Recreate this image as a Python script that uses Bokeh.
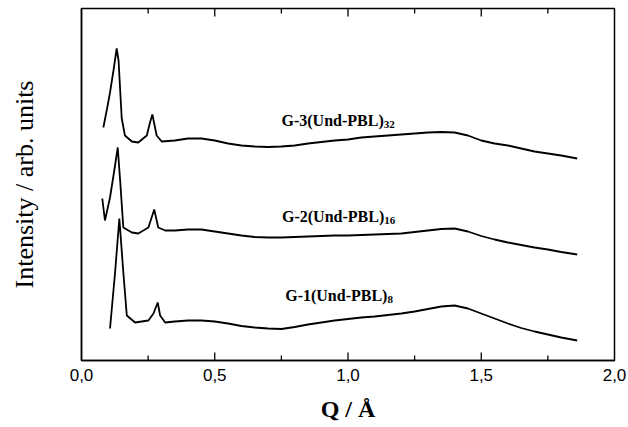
from bokeh.plotting import figure
from bokeh.models import FixedTicker, CustomJSTickFormatter, ColumnDataSource
from bokeh.core.properties import value
from bokeh.embed import file_html
from bokeh.resources import INLINE

# ---- data (intensity in arbitrary units) ----
q_g3 = [0.082, 0.096, 0.107, 0.120, 0.132, 0.139, 0.151, 0.163, 0.189, 0.213, 0.245, 0.257,
        0.266, 0.282, 0.301, 0.35, 0.40, 0.45, 0.50, 0.55, 0.60, 0.65, 0.70, 0.75, 0.80, 0.85,
        0.90, 0.95, 1.00, 1.05, 1.10, 1.15, 1.20, 1.25, 1.30, 1.35, 1.40, 1.45, 1.50, 1.55,
        1.60, 1.65, 1.70, 1.75, 1.80, 1.86]
i_g3 = [233, 252, 268, 290, 312, 300, 242, 225, 219, 218, 225, 238,
        246, 225, 219, 220, 222, 222, 220, 217, 215, 214, 213.5, 214, 215, 217,
        218.5, 220, 221, 223, 224, 225, 226, 227, 228, 228.5, 228, 225, 220, 217,
        215, 212, 209, 207, 205, 202]

q_g2 = [0.078, 0.088, 0.107, 0.123, 0.136, 0.145, 0.157, 0.189, 0.213, 0.251, 0.273, 0.288,
        0.314, 0.35, 0.40, 0.45, 0.50, 0.55, 0.60, 0.65, 0.70, 0.75, 0.80, 0.85, 0.90, 0.95,
        1.00, 1.05, 1.10, 1.15, 1.20, 1.25, 1.30, 1.35, 1.40, 1.45, 1.50, 1.55, 1.60, 1.65,
        1.70, 1.75, 1.80, 1.86]
i_g2 = [162, 140, 163, 190, 213, 180, 133, 128, 127, 133, 151, 133,
        130, 130, 131, 131, 129, 127, 125, 123.5, 123, 123, 123.5, 124, 124.5, 125,
        125, 125.5, 126, 126.5, 127, 128.5, 130, 131.5, 132, 129, 124.5, 121, 118, 115.5,
        113, 111, 108.5, 106]

q_g1 = [0.107, 0.126, 0.142, 0.157, 0.170, 0.201, 0.251, 0.270, 0.286, 0.295, 0.314, 0.35,
        0.40, 0.45, 0.50, 0.55, 0.60, 0.65, 0.70, 0.75, 0.80, 0.85, 0.90, 0.95, 1.00, 1.05,
        1.10, 1.15, 1.20, 1.25, 1.30, 1.35, 1.40, 1.45, 1.50, 1.55, 1.60, 1.65, 1.70, 1.75,
        1.80, 1.86]
i_g1 = [32, 88, 142, 88, 45, 38, 40, 47, 58, 45, 38, 39,
        40, 40, 39, 37, 34.5, 33, 32, 31.5, 33.5, 36, 38, 40, 41.5, 43,
        44, 45.5, 47, 49, 51.5, 54, 55, 52, 47, 42, 37, 32.5, 29, 26,
        23, 20]

label_main = ["G-3(Und-PBL)", "G-2(Und-PBL)", "G-1(Und-PBL)"]
label_sub = ["32", "16", "8"]

x_ticks = [0.0, 0.5, 1.0, 1.5, 2.0]
x_minor = [0.25, 0.75, 1.25, 1.75]

# ---- layout constants ----
Y0, Y1 = 0, 352          # y range equals frame height in px, so 1 unit = 1 px
MAJOR_LEN, MINOR_LEN = 8, 5
lab_x = [1.134, 1.136, 1.148]
lab_y = [240, 144, 65]
sub_y = [236, 140, 61]

p = figure(width=628, height=427, x_range=(0, 2), y_range=(Y0, Y1),
           output_backend="svg", toolbar_location=None,
           min_border_left=81, min_border_right=14, min_border_top=8, min_border_bottom=67)
p.background_fill_color = "white"
p.border_fill_color = "white"
p.outline_line_color = "black"
p.outline_line_width = 1.5
p.xgrid.visible = False
p.ygrid.visible = False

for q, i in ((q_g3, i_g3), (q_g2, i_g2), (q_g1, i_g1)):
    p.line(q, i, line_color="black", line_width=1.8)

src_main = ColumnDataSource(dict(x=lab_x, y=lab_y, t=label_main))
src_sub = ColumnDataSource(dict(x=lab_x, y=sub_y, t=label_sub))
p.text(x="x", y="y", text="t", source=src_main, text_font=value("Liberation Serif"),
       text_font_style="bold", text_font_size="16px", text_align="right",
       text_baseline="alphabetic", text_color="black")
p.text(x="x", y="y", text="t", source=src_sub, text_font=value("Liberation Serif"),
       text_font_style="bold", text_font_size="11px", text_align="left",
       text_baseline="alphabetic", text_color="black")

# inward tick marks on the bottom and top edges, placed at the tick values
inner_major = x_ticks[1:-1]
n_maj, n_min = len(inner_major), len(x_minor)
p.segment(x0=inner_major, y0=[Y0] * n_maj, x1=inner_major, y1=[Y0 + MAJOR_LEN] * n_maj,
          line_color="black", line_width=1.3)
p.segment(x0=x_minor, y0=[Y0] * n_min, x1=x_minor, y1=[Y0 + MINOR_LEN] * n_min,
          line_color="black", line_width=1.3)
p.segment(x0=inner_major, y0=[Y1] * n_maj, x1=inner_major, y1=[Y1 - MAJOR_LEN] * n_maj,
          line_color="black", line_width=1.3)
p.segment(x0=x_minor, y0=[Y1] * n_min, x1=x_minor, y1=[Y1 - MINOR_LEN] * n_min,
          line_color="black", line_width=1.3)

xa = p.xaxis[0]
xa.ticker = FixedTicker(ticks=x_ticks)
xa.formatter = CustomJSTickFormatter(code="return tick.toFixed(1).replace('.', ',');")
xa.major_tick_in = 0
xa.major_tick_out = 0
xa.minor_tick_in = 0
xa.minor_tick_out = 0
xa.axis_line_width = 1.5
xa.major_label_text_font = "Liberation Sans"
xa.major_label_text_font_size = "17px"
xa.major_label_text_color = "black"
xa.major_label_standoff = 8
xa.axis_label = "Q / Å"
xa.axis_label_text_font = "Liberation Serif"
xa.axis_label_text_font_style = "bold"
xa.axis_label_text_font_size = "24px"
xa.axis_label_text_color = "black"
xa.axis_label_standoff = 12

ya = p.yaxis[0]
ya.ticker = FixedTicker(ticks=[])
ya.major_tick_out = 0
ya.minor_tick_out = 0
ya.axis_line_width = 1.5
ya.axis_label = "Intensity / arb. units"
ya.axis_label_text_font = "Liberation Serif"
ya.axis_label_text_font_style = "normal"
ya.axis_label_text_font_size = "26px"
ya.axis_label_text_color = "black"
ya.axis_label_standoff = 43

open("out.html", "w").write(file_html(p, INLINE))
